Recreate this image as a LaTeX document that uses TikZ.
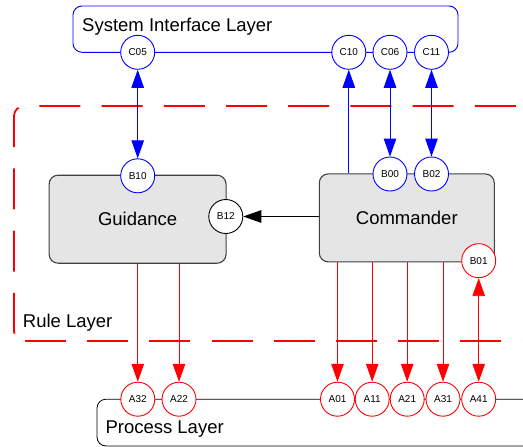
\documentclass[tikz,border=0pt]{standalone}
\usepackage{fontspec}
\setmainfont{Liberation Sans}
\usetikzlibrary{arrows.meta}
\definecolor{pblue}{RGB}{0,0,255}
\definecolor{pred}{RGB}{255,0,0}
\definecolor{boxgray}{RGB}{229,229,229}
\definecolor{boxline}{RGB}{64,64,64}
\begin{document}
\begin{tikzpicture}[x=1pt,y=-1pt,
  >={Triangle[length=18pt,width=12.5pt]},
  big/.style={font=\fontsize{18.5}{22}\selectfont, inner sep=0pt},
  port/.style={circle, draw, fill=white, minimum size=34pt, inner sep=0pt, line width=0.9pt, font=\fontsize{10}{12}\selectfont},
  bport/.style={port, draw=pblue},
  rport/.style={port, draw=pred},
  kport/.style={port, draw=black},
  compbox/.style={draw=boxline, fill=boxgray, rounded corners=9pt, line width=1.1pt, inner sep=0pt, font=\fontsize{18.5}{22}\selectfont},
  bline/.style={pblue, line width=0.9pt},
  rline/.style={pred, line width=0.9pt},
  ruledash/.style={pred, line width=1.8pt, dash pattern=on 41pt off 21.2pt},
]
\useasboundingbox (0,0) rectangle (523,447);
\clip (0,0) rectangle (523,447);
% layers
\draw[pblue, line width=0.9pt, rounded corners=9pt] (73,6) rectangle (458,52.3);
\draw[ruledash, rounded corners=10pt]
  (578,106) -- (14,106) -- (14,341) -- (24,341);
\draw[ruledash] (25,341) -- (577,341);
\draw[black, line width=0.8pt, rounded corners=9pt] (560,399.2) -- (97,399.2) -- (97,446) -- (560,446);
\node[big, anchor=base west] (sil) at (82,31.5) {System Interface Layer};
\node[big, anchor=base west] (rl) at (22.7,327.3) {Rule Layer};
\node[big, anchor=base west] (pl) at (105.3,433.3) {Process Layer};
% components
\node[compbox, minimum width=177pt, minimum height=88pt] (gui) at (137.6,219.2) {Guidance};
\node[compbox, minimum width=175pt, minimum height=88pt] (com) at (406.8,217.9) {Commander};
% ports
\node[bport] (c05) at (137.7,52.3) {C05};
\node[bport] (c10) at (348.8,52.3) {C10};
\node[bport] (c06) at (390,52.3) {C06};
\node[bport] (c11) at (431.5,52.3) {C11};
\node[bport] (b10) at (137.7,175.8) {B10};
\node[kport] (b12) at (225.8,216.5) {B12};
\node[bport] (b00) at (390,174) {B00};
\node[bport] (b02) at (431.5,174) {B02};
\node[rport] (b01) at (478.7,260.7) {B01};
\node[rport] (a32) at (137.8,399.2) {A32};
\node[rport] (a22) at (179,399.2) {A22};
\node[rport] (a01) at (337.5,399.2) {A01};
\node[rport] (a11) at (372.2,399.2) {A11};
\node[rport] (a21) at (407.2,399.2) {A21};
\node[rport] (a31) at (443,399.2) {A31};
\node[rport] (a41) at (478.7,399.2) {A41};
% connectors
\draw[bline,<->] (c05) -- (b10);
\draw[bline,->] (com.north -| c10) -- (c10);
\draw[bline,<->] (c06) -- (b00);
\draw[bline,<->] (c11) -- (b02);
\draw[black, line width=0.9pt, ->] (com.west |- b12) -- (b12);
\foreach \a in {a32,a22} \draw[rline,->] (gui.south -| \a) -- (\a);
\foreach \a in {a01,a11,a21,a31} \draw[rline,->] (com.south -| \a) -- (\a);
\draw[rline,<->] (b01) -- (a41);
\end{tikzpicture}
\end{document}
